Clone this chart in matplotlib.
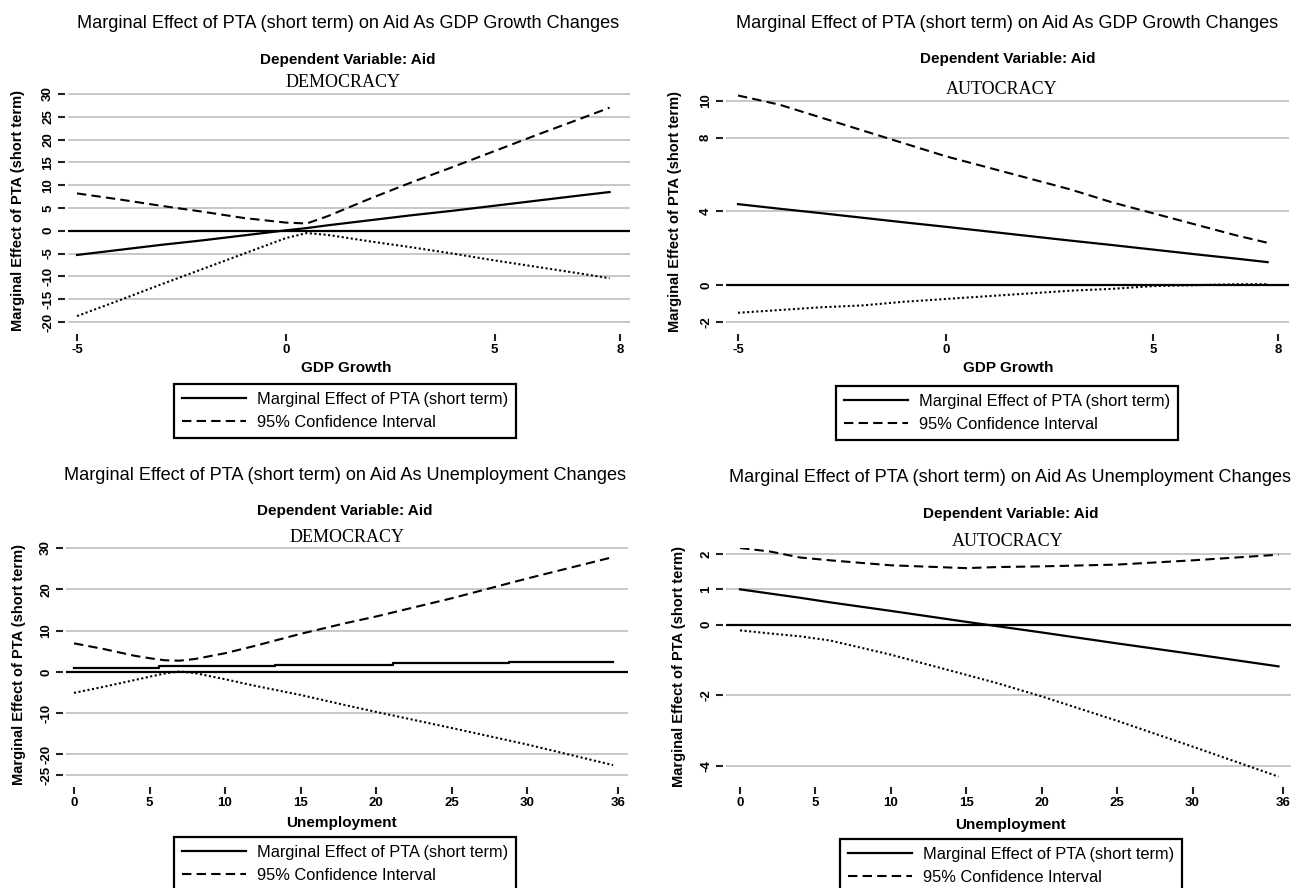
import numpy as np
import matplotlib
matplotlib.use('Agg')
import matplotlib.pyplot as plt

plt.rcParams['font.family'] = ['Liberation Sans', 'DejaVu Sans']

# ---- data ----
# GDP growth, democracy
gdp_dem_x = [-5, -4, -3, -2, -1, 0, 0.5, 1, 2, 3, 4, 5, 6, 7, 7.75]
gdp_dem_me = [-5.3, -4.2, -3.1, -2.1, -1.0, 0.1, 0.6, 1.2, 2.3, 3.4, 4.4, 5.5, 6.6, 7.7, 8.5]
gdp_dem_hi = [8.2, 6.9, 5.5, 4.2, 2.8, 1.8, 1.6, 3.2, 7.0, 10.6, 14.0, 17.5, 21.0, 24.4, 27.0]
gdp_dem_lo = [-18.7, -15.3, -11.8, -8.4, -5.0, -1.6, -0.5, -0.9, -2.3, -3.6, -5.0, -6.5, -7.9, -9.3, -10.4]

# GDP growth, autocracy
gdp_aut_x = [-5, -4, -3, -2, -1, 0, 1, 2, 3, 4, 5, 6, 7, 7.75]
gdp_aut_me = [4.40, 4.15, 3.91, 3.66, 3.41, 3.17, 2.92, 2.67, 2.42, 2.18, 1.93, 1.68, 1.44, 1.25]
gdp_aut_hi = [10.3, 9.8, 9.1, 8.4, 7.7, 7.0, 6.4, 5.8, 5.2, 4.5, 3.9, 3.3, 2.7, 2.3]
gdp_aut_lo = [-1.5, -1.35, -1.2, -1.1, -0.9, -0.75, -0.6, -0.45, -0.3, -0.2, -0.05, 0.0, 0.05, 0.05]

# Unemployment, democracy (marginal effect is drawn as a staircase in the original)
une_dem_x = [0, 2, 4, 5, 6, 7, 8, 10, 12, 15, 18, 20, 25, 30, 35.7]
une_dem_hi = [6.9, 5.5, 3.9, 3.3, 2.8, 2.7, 3.1, 4.5, 6.3, 9.2, 11.8, 13.4, 17.8, 22.6, 27.8]
une_dem_lo = [-5.1, -3.6, -2.0, -1.2, -0.4, 0.1, -0.3, -1.8, -3.4, -5.6, -8.1, -9.7, -13.6, -17.6, -22.6]
une_dem_me_x = [0, 5.6, 13.3, 21.1, 28.8, 35.7]
une_dem_me = [1.0, 1.45, 1.75, 2.1, 2.4, 2.4]

# Unemployment, autocracy
une_aut_x = [0, 2, 4, 6, 10, 15, 17, 20, 25, 30, 35.7]
une_aut_me = [1.0, 0.88, 0.76, 0.63, 0.39, 0.08, -0.04, -0.22, -0.53, -0.83, -1.18]
une_aut_hi = [2.17, 2.07, 1.9, 1.82, 1.68, 1.6, 1.63, 1.65, 1.7, 1.82, 1.98]
une_aut_lo = [-0.16, -0.25, -0.33, -0.45, -0.85, -1.42, -1.65, -2.03, -2.72, -3.45, -4.3]

gdp_xticks = [-5, 0, 5, 8]
une_xticks = [0, 5, 10, 15, 20, 25, 30, 36]
dem_gdp_yticks = [-20, -15, -10, -5, 0, 5, 10, 15, 20, 25, 30]
aut_gdp_yticks = [-2, 0, 4, 8, 10]
dem_une_yticks = [-25, -20, -10, 0, 10, 20, 30]
aut_une_yticks = [-4, -2, 0, 1, 2]

title_gdp = 'Marginal Effect of PTA (short term) on Aid As GDP Growth Changes'
title_une = 'Marginal Effect of PTA (short term) on Aid As Unemployment Changes'
ylab = 'Marginal Effect of PTA (short term)'

W, H = 1291, 888
fig = plt.figure(figsize=(W / 100, H / 100), dpi=100)


def lin(p0, v0, p1, v1, p):
    return v0 + (p - p0) * (v1 - v0) / (p1 - p0)


def ftext(x, y, s, **kw):
    fig.text(x / W, 1 - y / H, s, ha='center', va='center', **kw)


def panel(box, xt, yt, xpx_ticks, ypx_ticks, texts, ylab_x):
    left, top, right, bottom = box
    ax = fig.add_axes([left / W, 1 - bottom / H, (right - left) / W, (bottom - top) / H])
    (px0, xv0), (px1, xv1) = xpx_ticks
    (py0, yv0), (py1, yv1) = ypx_ticks
    ax.set_xlim(lin(px0, xv0, px1, xv1, left), lin(px0, xv0, px1, xv1, right))
    ax.set_ylim(lin(py0, yv0, py1, yv1, bottom), lin(py0, yv0, py1, yv1, top))
    for s in ax.spines.values():
        s.set_visible(False)
    ax.spines['left'].set_position(('outward', 2))
    ax.spines['bottom'].set_position(('outward', 5))
    ax.set_xticks(xt)
    ax.set_yticks(yt)
    ax.set_xticklabels([str(v) for v in xt], fontsize=9.5, fontweight='bold')
    ax.set_yticklabels([str(v) for v in yt], fontsize=9.5, fontweight='bold',
                       rotation=90, va='center')
    ax.tick_params(axis='x', length=5, width=1.5, color='#222222', pad=2)
    ax.tick_params(axis='y', length=5, width=1.5, color='#222222', pad=3)
    for v in yt:
        if v != 0:
            ax.axhline(v, color='#c4c4c4', lw=1.3, zorder=1)
    ax.axhline(0, color='black', lw=1.6, zorder=2)
    (tx, ty, title), (dx, dy), (rx, ry, regime), (lx, ly, xlabel) = texts
    ftext(tx, ty, title, fontsize=13.1)
    ftext(dx, dy, 'Dependent Variable: Aid', fontsize=11, fontweight='bold')
    ftext(rx, ry, regime, fontsize=13, family='Liberation Serif')
    ftext(lx, ly, xlabel, fontsize=11, fontweight='bold')
    ftext(ylab_x, (top + bottom) / 2 + 2, ylab, rotation=90, fontsize=10.5, fontweight='bold')
    return ax


def add_legend(ax, h1, h2, cx, ltop):
    leg = ax.legend([h1, h2], ['Marginal Effect of PTA (short term)', '95% Confidence Interval'],
                    loc='upper center', bbox_to_anchor=(cx / W, 1 - ltop / H),
                    bbox_transform=fig.transFigure, fancybox=False, shadow=False,
                    edgecolor='black', framealpha=1, fontsize=11.8, handlelength=3.9,
                    borderpad=0.5, labelspacing=0.45, handletextpad=0.7, borderaxespad=0)
    leg.get_frame().set_linewidth(1.6)


dash = dict(color='black', lw=1.5, linestyle=(0, (4.5, 2.5)))
dot = dict(color='black', lw=1.5, linestyle=(0, (1, 1.2)))
solid = dict(color='black', lw=1.6)

# top left
ax = panel((68, 90, 630, 327), gdp_xticks, dem_gdp_yticks, ((77, -5), (620, 8)),
           ((94, 30), (322, -20)),
           ((348, 23, title_gdp), (348, 60), (343, 82, 'DEMOCRACY'), (346, 368, 'GDP Growth')), 18)
h1, = ax.plot(gdp_dem_x, gdp_dem_me, **solid, zorder=3)
h2, = ax.plot(gdp_dem_x, gdp_dem_hi, **dash, zorder=3)
ax.plot(gdp_dem_x, gdp_dem_lo, **dot, zorder=3)
add_legend(ax, h1, h2, 345, 384)

# top right
ax = panel((726, 92, 1289, 327), gdp_xticks, aut_gdp_yticks, ((738, -5), (1278, 8)),
           ((101, 10), (322, -2)),
           ((1007, 24, title_gdp), (1008, 59), (1002, 89, 'AUTOCRACY'), (1008, 368, 'GDP Growth')), 675)
h1, = ax.plot(gdp_aut_x, gdp_aut_me, **solid, zorder=3)
h2, = ax.plot(gdp_aut_x, gdp_aut_hi, **dash, zorder=3)
ax.plot(gdp_aut_x, gdp_aut_lo, **dot, zorder=3)
add_legend(ax, h1, h2, 1007, 386)

# bottom left
ax = panel((66, 544, 628, 780), une_xticks, dem_une_yticks, ((74, 0), (527, 30)),
           ((548, 30), (775, -25)),
           ((345, 475, title_une), (345, 511), (347, 537, 'DEMOCRACY'), (341, 823, 'Unemployment')), 19)
h1, = ax.plot(une_dem_me_x, une_dem_me, **solid, drawstyle='steps-post', zorder=3)
h2, = ax.plot(une_dem_x, une_dem_hi, **dash, zorder=3)
ax.plot(une_dem_x, une_dem_lo, **dot, zorder=3)
add_legend(ax, h1, h2, 345, 837)

# bottom right
ax = panel((726, 548, 1291, 780), une_xticks, aut_une_yticks, ((740, 0), (1283, 36)),
           ((554, 2), (766, -4)),
           ((1010, 477, title_une), (1011, 514), (1008, 542, 'AUTOCRACY'), (1010, 825, 'Unemployment')), 679)
h1, = ax.plot(une_aut_x, une_aut_me, **solid, zorder=3)
h2, = ax.plot(une_aut_x, une_aut_hi, **dash, zorder=3)
ax.plot(une_aut_x, une_aut_lo, **dot, zorder=3)
add_legend(ax, h1, h2, 1011, 839)

fig.savefig('out.png', dpi=100, facecolor='white')
